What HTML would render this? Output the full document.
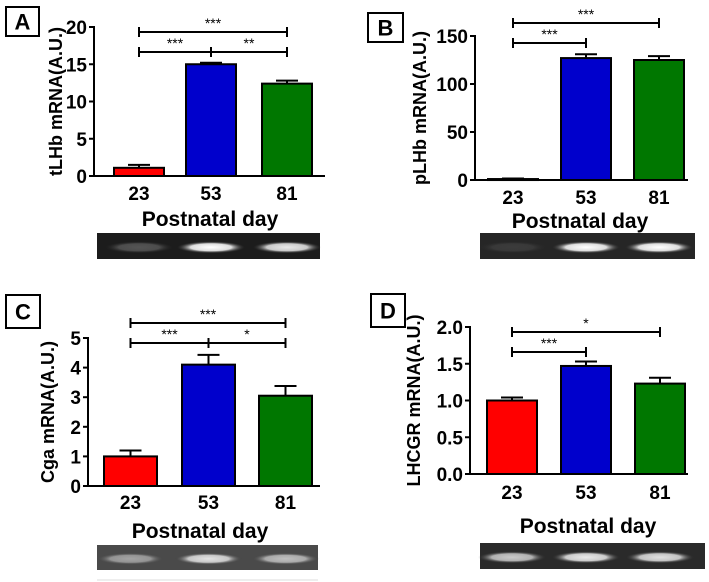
<!DOCTYPE html>
<html><head><meta charset="utf-8"><style>
body{margin:0;background:#fff;}
svg{display:block;font-family:"Liberation Sans",Arial,sans-serif;}
</style></head><body>
<svg id="fig" width="709" height="582" viewBox="0 0 709 582">
<defs>
<radialGradient id="band" cx="50%" cy="50%" r="50%"><stop offset="0" stop-color="#fff"/><stop offset="0.6" stop-color="#ddd"/><stop offset="1" stop-color="#333" stop-opacity="0"/></radialGradient>
</defs>
</svg>
<script>
const categories = ["23","53","81"];
const colors = ["#ff0000","#0000cc","#007700"];
const valuesA = [1.1, 15.0, 12.4];
const errorsA = [0.4, 0.2, 0.4];
const ticksA = [0,5,10,15,20];
const valuesB = [1, 127, 125];
const errorsB = [0.5, 4, 4];
const ticksB = [0,50,100,150];
const valuesC = [1.0, 4.1, 3.05];
const errorsC = [0.2, 0.33, 0.33];
const ticksC = [0,1,2,3,4,5];
const valuesD = [1.0, 1.47, 1.23];
const errorsD = [0.04, 0.06, 0.08];
const ticksD = ["0.0","0.5","1.0","1.5","2.0"];
const gelA = [0.25, 1, 0.9];
const gelB = [0.1, 1, 1];
const gelC = [0.5, 0.85, 0.65];
const gelD = [0.75, 0.9, 0.85];

const NS="http://www.w3.org/2000/svg";
const svg=document.getElementById('fig');
function mk(tag,attrs,parent,text){const e=document.createElementNS(NS,tag);for(const k in attrs)e.setAttribute(k,attrs[k]);if(text!==undefined)e.textContent=text;(parent||svg).appendChild(e);return e;}

function panel(p){
  const g=mk('g',{});
  
  
  const y=v=>p.y0-(v/p.max)*(p.y0-p.yTop);
  const bx=i=>p.bars[i];
  const bl=mk('rect',{x:p.box[0],y:p.box[1],width:p.box[2],height:p.box[3],fill:'#fff',stroke:'#000','stroke-width':2},g);
  
  
  const lt=mk('text',{x:p.box[0]+p.box[2]/2,y:p.box[1]+p.box[3]/2+8,'text-anchor':'middle','font-size':22,'font-weight':'bold'},g,p.letter);
  
  
  const ya=mk('line',{x1:p.ax,y1:p.yTop-1,x2:p.ax,y2:p.y0,stroke:'#000','stroke-width':2},g);
  
  
  const xa=mk('line',{x1:p.ax,y1:p.y0,x2:p.axEnd,y2:p.y0,stroke:'#000','stroke-width':2},g);
  
  
  p.ticks.forEach(t=>{
    const yy=y(parseFloat(t));
    mk('line',{x1:p.ax-5,y1:yy,x2:p.ax,y2:yy,stroke:'#000','stroke-width':2},g);
    const tl=mk('text',{x:p.ax-7,y:yy+7,'text-anchor':'end','font-size':19,'font-weight':'bold'},g,String(t));
    
    
  });
  const yt=mk('text',{x:0,y:0,transform:`translate(${p.titleX},${(p.y0+p.yTop)/2}) rotate(-90)`,'text-anchor':'middle','font-size':18,'font-weight':'bold'},g,p.title);
  
  
  p.values.forEach((v,i)=>{
    const x0=bx(i), w=p.bw, yy=y(v), cx=x0+w/2, ye=y(v+p.errors[i]);
    const el=mk('line',{x1:cx,y1:yy,x2:cx,y2:ye,stroke:'#000','stroke-width':2},g);
    
    
    mk('line',{x1:cx-11,y1:ye,x2:cx+11,y2:ye,stroke:'#000','stroke-width':2},g);
    const r=mk('rect',{x:x0,y:yy,width:w,height:Math.max(p.y0-yy,1),fill:colors[i],stroke:'#000','stroke-width':2},g);
    
    
    const cl=mk('text',{x:cx,y:p.catY,'text-anchor':'middle','font-size':19,'font-weight':'bold'},g,categories[i]);
    
    
  });
  const xt=mk('text',{x:p.xtX,y:p.xtY,'text-anchor':'middle','font-size':21,'font-weight':'bold'},g,'Postnatal day');
  
  
  p.sig.forEach(s=>{
    const x1=bx(s[0])+p.bw/2, x2=bx(s[1])+p.bw/2;
    const sl=mk('line',{x1:x1,y1:s[2],x2:x2,y2:s[2],stroke:'#000','stroke-width':2},g);
    
    
    mk('line',{x1:x1,y1:s[2]-5,x2:x1,y2:s[2]+5,stroke:'#000','stroke-width':2},g);
    mk('line',{x1:x2,y1:s[2]-5,x2:x2,y2:s[2]+5,stroke:'#000','stroke-width':2},g);
    const st=mk('text',{x:(x1+x2)/2,y:s[2]-4,'text-anchor':'middle','font-size':14},g,s[3]);
    
    
  });
  const gl=mk('g',{},g);
  
  
  mk('rect',{x:p.gel[0],y:p.gel[1],width:p.gel[2],height:p.gel[3],fill:p.gelBg},gl);
  p.gelI.forEach((a,i)=>{
    const cx=bx(i)+p.bw/2;
    mk('ellipse',{cx:cx,cy:p.gel[1]+p.gel[3]*0.55,rx:34,ry:6,fill:'url(#band)',opacity:a},gl);
  });
}

panel({letter:'A',box:[6,7,33,29],ax:94,axEnd:325,y0:176,yTop:27,max:20,ticks:ticksA,title:'tLHb mRNA(A.U.)',titleX:62,
  values:valuesA,errors:errorsA,bars:[114,186,262],bw:50,catY:200,xtX:210,xtY:226,
  sig:[[0,2,32,'***'],[0,1,52,'***'],[1,2,52,'**']],gel:[97,233,223,26],gelI:gelA,gelBg:'#1c1c1c'});
panel({letter:'B',box:[368,13,35,29],ax:475,axEnd:688,y0:180,yTop:36,max:150,ticks:ticksB,title:'pLHb mRNA(A.U.)',titleX:426,
  values:valuesB,errors:errorsB,bars:[488,561,634],bw:50,catY:204,xtX:580,xtY:228,
  sig:[[0,2,23,'***'],[0,1,43,'***']],gel:[480,233,215,26],gelI:gelB,gelBg:'#262626'});
panel({letter:'C',box:[6,295,34,33],ax:88,axEnd:320,y0:486,yTop:338,max:5,ticks:ticksC,title:'Cga mRNA(A.U.)',titleX:54,
  values:valuesC,errors:errorsC,bars:[104,182,259],bw:53,catY:509,xtX:200,xtY:538,
  sig:[[0,2,323,'***'],[0,1,343,'***'],[1,2,343,'*']],gel:[97,545,221,25],gelI:gelC,gelBg:'#4a4a4a'});
panel({letter:'D',box:[371,294,34,33],ax:470,axEnd:688,y0:474,yTop:327,max:2,ticks:ticksD,title:'LHCGR mRNA(A.U.)',titleX:420,
  values:valuesD,errors:errorsD,bars:[487,561,635],bw:50,catY:499,xtX:588,xtY:533,
  sig:[[0,2,332,'*'],[0,1,352,'***']],gel:[480,543,225,26],gelI:gelD,gelBg:'#2a2a2a'});
const fl=mk('line',{x1:97,y1:580,x2:318,y2:580,stroke:'#ddd','stroke-width':1});


</script>
</body></html>
